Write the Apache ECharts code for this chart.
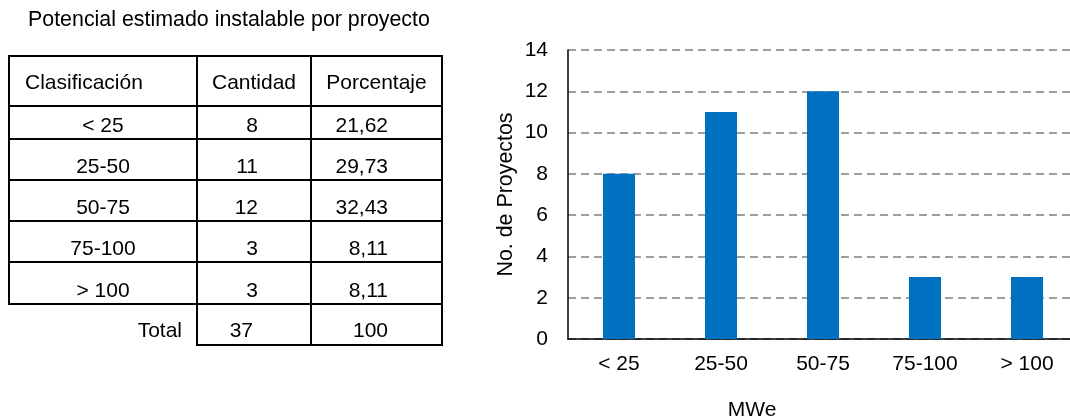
<!DOCTYPE html>
<html>
<head>
<meta charset="utf-8">
<script src="https://cdn.jsdelivr.net/npm/echarts@6/dist/echarts.min.js"></script>
<style>
  html, body { margin: 0; padding: 0; background: #ffffff; overflow: hidden; }
  #wrap { width: 1070px; height: 419px; overflow: hidden; }
  #chart { width: 1078px; height: 419px; }
</style>
</head>
<body>
<div id="wrap"><div id="chart"></div></div>
<script>
// Project-size classes (MWe) and counts
var categories = ['< 25', '25-50', '50-75', '75-100', '> 100'];
var cantidad = [8, 11, 12, 3, 3];
var porcentaje = ['21,62', '29,73', '32,43', '8,11', '8,11'];
var totalCantidad = 37;
var totalPorcentaje = '100';
var headers = ['Clasificación', 'Cantidad', 'Porcentaje'];
var tableTitle = 'Potencial estimado instalable por proyecto';
var yTicks = { min: 0, max: 14, interval: 2 };

var FONT_FAMILY = '"Liberation Sans", Arial, sans-serif';
var FS = 21;

// Table geometry (pixels)
var colX = [9, 197, 311, 442];               // column borders
var rowY = [56, 106, 139, 180, 221, 262, 304, 345]; // row borders (header, 5 rows, total)

function txt(text, x, y, align, size) {
  return {
    type: 'text',
    style: {
      text: String(text), x: x, y: y,
      align: align || 'center', verticalAlign: 'middle',
      fill: '#000', fontSize: size || FS, fontFamily: FONT_FAMILY
    }
  };
}
function line(x1, y1, x2, y2) {
  return {
    type: 'line',
    shape: { x1: x1, y1: y1, x2: x2, y2: y2 },
    style: { stroke: '#000', lineWidth: 2 }
  };
}

var g = [];
g.push(txt(tableTitle, 28, 20, 'left', 21.4));

// horizontal rules of the main table
for (var i = 0; i < rowY.length - 1; i++) {
  g.push(line(colX[0] - 1, rowY[i], colX[3] + 1, rowY[i]));
}
// bottom of the total box
g.push(line(colX[1] - 1, rowY[7], colX[3] + 1, rowY[7]));
// vertical rules
g.push(line(colX[0], rowY[0], colX[0], rowY[6]));
g.push(line(colX[1], rowY[0], colX[1], rowY[7]));
g.push(line(colX[2], rowY[0], colX[2], rowY[7]));
g.push(line(colX[3], rowY[0], colX[3], rowY[7]));

// header row
g.push(txt(headers[0], 25, 83, 'left'));
g.push(txt(headers[1], (colX[1] + colX[2]) / 2, 83));
g.push(txt(headers[2], (colX[2] + colX[3]) / 2, 83));

// data rows
for (var r = 0; r < categories.length; r++) {
  var cy = rowY[r + 2] - 12.5;
  g.push(txt(categories[r], (colX[0] + colX[1]) / 2, cy));
  g.push(txt(cantidad[r], 258, cy, 'right'));
  g.push(txt(porcentaje[r], 388, cy, 'right'));
}
// total row
var ty = rowY[7] - 14;
g.push(txt('Total', 182, ty, 'right'));
g.push(txt(totalCantidad, 253, ty, 'right'));
g.push(txt(totalPorcentaje, 388, ty, 'right'));

// x-axis title
g.push(txt('MWe', 752, 410));

var chart = echarts.init(document.getElementById('chart'), null, { renderer: 'canvas' });
chart.setOption({
  animation: false,
  backgroundColor: '#ffffff',
  textStyle: { fontFamily: FONT_FAMILY },
  grid: { left: 568, top: 50, right: 0, height: 289, containLabel: false },
  xAxis: {
    type: 'category',
    data: categories,
    axisLine: { show: true, lineStyle: { color: '#000', width: 1.5 } },
    axisTick: { show: false },
    axisLabel: { color: '#000', fontSize: FS, fontFamily: FONT_FAMILY, margin: 15 },
    splitLine: { show: false }
  },
  yAxis: {
    type: 'value',
    min: yTicks.min, max: yTicks.max, interval: yTicks.interval,
    name: 'No. de Proyectos',
    nameLocation: 'middle',
    nameGap: 51,
    nameTextStyle: { color: '#000', fontSize: 21.4, fontFamily: FONT_FAMILY },
    axisLine: { show: true, lineStyle: { color: '#000', width: 1.5 } },
    axisTick: { show: false },
    axisLabel: { color: '#000', fontSize: FS, fontFamily: FONT_FAMILY, margin: 20 },
    splitLine: { show: true, lineStyle: { color: '#7f7f7f', width: 1.7, type: [8, 5] } }
  },
  series: [{
    type: 'bar',
    data: cantidad,
    barWidth: 32,
    itemStyle: { color: '#0070C0' }
  }],
  graphic: g
});
</script>
</body>
</html>
